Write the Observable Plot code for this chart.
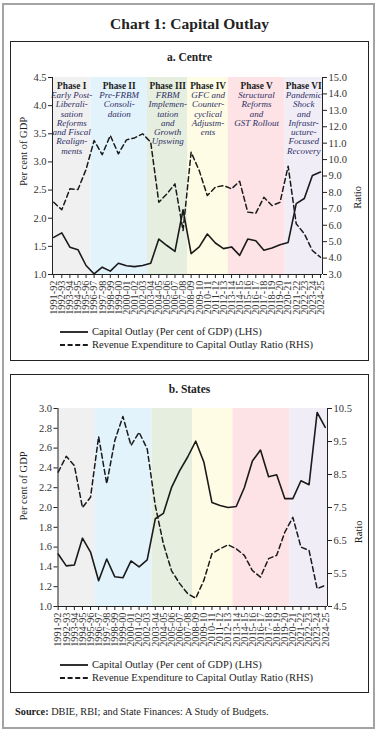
<!DOCTYPE html>
<html><head><meta charset="utf-8">
<script src="https://cdn.jsdelivr.net/npm/d3@7"></script>
<script src="https://cdn.jsdelivr.net/npm/@observablehq/plot@0.6"></script>
<style>
body{margin:0;background:#fff;font-family:"Liberation Serif",serif;color:#222;}
#frame{position:absolute;left:2px;top:3px;width:373px;height:726px;border:2px solid #a3a3a3;box-sizing:border-box;}
.title{position:absolute;left:0;width:379px;top:15px;text-align:center;font-weight:bold;font-size:15.5px;line-height:18px;color:#222;}
.panel{position:absolute;left:10px;width:359px;border:1px solid #222;box-sizing:border-box;}
.sub{position:absolute;left:0;width:357px;text-align:center;font-weight:bold;font-size:11.5px;line-height:13px;}
.chart{position:absolute;left:0;}
.leg{position:absolute;left:49px;font-size:10.5px;line-height:13px;white-space:nowrap;}
.leg div{height:13px;display:flex;align-items:center;}
.leg svg{margin-right:3px;}
.source{position:absolute;left:15px;top:705px;font-size:10.3px;line-height:13px;}
</style></head>
<body>
<div id="frame"></div>
<div class="title">Chart 1: Capital Outlay</div>
<div class="panel" style="top:41px;height:320px;">
  <div class="sub" style="top:9px;">a. Centre</div>
  <div class="chart" id="c1" style="top:23px;"></div>
  <div class="leg" style="top:283px;" id="l1"></div>
</div>
<div class="panel" style="top:374px;height:319px;">
  <div class="sub" style="top:8px;">b. States</div>
  <div class="chart" id="c2" style="top:21px;"></div>
  <div class="leg" style="top:283px;" id="l2"></div>
</div>
<div class="source"><b>Source:</b> DBIE, RBI; and State Finances: A Study of Budgets.</div>
<script>
const years = ["1991-92","1992-93","1993-94","1994-95","1995-96","1996-97","1997-98","1998-99","1999-00","2000-01","2001-02","2002-03","2003-04","2004-05","2005-06","2006-07","2007-08","2008-09","2009-10","2010-11","2011-12","2012-13","2013-14","2014-15","2015-16","2016-17","2017-18","2018-19","2019-20","2020-21","2021-22","2022-23","2023-24","2024-25"];

// Centre
const centreCapOutlay = [1.66,1.74,1.485,1.44,1.16,1.01,1.13,1.06,1.20,1.155,1.14,1.16,1.20,1.63,1.515,1.41,2.15,1.37,1.49,1.72,1.56,1.46,1.49,1.34,1.63,1.60,1.43,1.47,1.53,1.57,2.26,2.35,2.76,2.82];
const centreRatio = [7.40,6.94,8.22,8.18,9.4,11.16,10.3,11.47,10.35,11.2,11.32,11.57,11.06,7.40,7.91,8.52,5.68,10.45,9.33,7.81,8.32,8.42,8.22,8.68,6.80,6.73,7.70,7.20,7.40,9.6,6.09,5.48,4.46,4.05];

// States
const statesCapOutlay = [1.53,1.41,1.42,1.69,1.55,1.26,1.48,1.30,1.29,1.46,1.40,1.47,1.886,1.94,2.20,2.37,2.51,2.67,2.46,2.05,2.02,2.00,2.01,2.20,2.47,2.58,2.31,2.33,2.09,2.09,2.27,2.23,2.96,2.81];
const statesRatio = [8.57,9.05,8.77,7.50,7.81,9.65,8.22,9.53,10.26,9.38,9.78,9.28,7.56,6.40,5.59,5.20,4.89,4.75,5.29,6.10,6.25,6.37,6.25,6.05,5.59,5.39,5.95,6.05,6.75,7.20,6.30,6.20,5.04,5.14];

const phaseNames = ["Phase I","Phase II","Phase III","Phase IV","Phase V","Phase VI"];
const phaseStart = ["1991-92","1996-97","2003-04","2008-09","2013-14","2020-21"];
const phaseDesc = [
  "Early Post-\nLiberali-\nsation\nReforms\nand Fiscal\nRealign-\nments",
  "Pre-FRBM\nConsoli-\ndation",
  "FRBM\nImplemen-\ntation\nand\nGrowth\nUpswing",
  "GFC and\nCounter-\ncyclical\nAdjustm-\nents",
  "Structural\nReforms\nand\nGST Rollout",
  "Pandemic\nShock\nand\nInfrastr-\nucture-\nFocused\nRecovery"
];
const phaseColors = ["#f0f0f0","#e3f3fc","#e6efdf","#fefce5","#fde3e5","#f1edf6"];

const centreLeftTicks = [1.0,1.5,2.0,2.5,3.0,3.5,4.0,4.5];
const centreRightTicks = [3,4,5,6,7,8,9,10,11,12,13,14,15];
const statesLeftTicks = [1.0,1.2,1.4,1.6,1.8,2.0,2.2,2.4,2.6,2.8,3.0];
const statesRightTicks = [4.5,5.5,6.5,7.5,8.5,9.5,10.5];

const legendItems = ["Capital Outlay (Per cent of GDP) (LHS)","Revenue Expenditure to Capital Outlay Ratio (RHS)"];

function makeChart(opts) {
  const {cap, ratio, lDom, rDom, lTicks, rTicks, xDom, labels, m, height, lblOff} = opts;
  const toL = r => lDom[0] + (r - rDom[0]) * (lDom[1] - lDom[0]) / (rDom[1] - rDom[0]);
  const toR = l => rDom[0] + (l - lDom[0]) * (rDom[1] - rDom[0]) / (lDom[1] - lDom[0]);
  const idx = years.map((d, i) => i);
  const bands = phaseNames.map((p, k) => {
    const s = years.indexOf(phaseStart[k]);
    const e = k < phaseNames.length - 1 ? years.indexOf(phaseStart[k + 1]) : null;
    const x1 = k === 0 ? xDom[0] : s - 0.4;
    const x2 = e === null ? xDom[1] : e - 0.4;
    return {name: p, desc: phaseDesc[k], fill: phaseColors[k], x1, x2, xm: (x1 + x2) / 2};
  });
  const marks = [
    Plot.rect(bands, {x1: "x1", x2: "x2", fill: "fill"}),
  ];
  if (labels) {
    marks.push(Plot.text(bands, {x: "xm", frameAnchor: "top", lineAnchor: "middle", dy: 9, text: "name", fontWeight: "bold", fontSize: 9.3, fill: "#1a1a1a"}));
    marks.push(Plot.text(bands, {x: "xm", frameAnchor: "top", lineAnchor: "top", dy: 14, text: "desc", fontStyle: "italic", fontSize: 9, lineHeight: 1.03, fill: "#2e2e66"}));
  }
  marks.push(
    Plot.line(idx, {x: i => i, y: i => toL(ratio[i]), stroke: "#1a1a1a", strokeWidth: 1.5, strokeDasharray: "5,3.2"}),
    Plot.line(idx, {x: i => i, y: i => cap[i], stroke: "#1a1a1a", strokeWidth: 1.6}),
    Plot.ruleX([xDom[0]], {stroke: "#222", strokeWidth: 1}),
    Plot.ruleX([xDom[1]], {stroke: "#222", strokeWidth: 1}),
    Plot.ruleY([lDom[0]], {stroke: "#222", strokeWidth: 1}),
    Plot.axisY(lTicks, {anchor: "left", tickSize: 4, tickPadding: 2, tickFormat: d => d.toFixed(1), label: null, fill: "#333"}),
    Plot.axisY(rTicks.map(toL), {anchor: "right", tickSize: 4, tickPadding: 2, tickFormat: d => toR(d).toFixed(1), label: null, fill: "#333"}),
    Plot.axisX(idx, {anchor: "bottom", tickSize: 4, tickPadding: 2, tickRotate: -90, tickFormat: i => years[i], label: null, fill: "#333", fontSize: 10.3}),
    Plot.text(["Per cent of GDP"], {frameAnchor: "left", dx: lblOff.ldx, dy: lblOff.dy, rotate: -90, fontSize: 10.5, fill: "#222"}),
    Plot.text(["Ratio"], {frameAnchor: "right", dx: lblOff.rdx, dy: lblOff.dy, rotate: -90, fontSize: 10.5, fill: "#222"})
  );
  return Plot.plot({
    width: 357, height,
    marginTop: m[0], marginRight: m[1], marginBottom: m[2], marginLeft: m[3],
    style: {fontFamily: "Liberation Serif, serif", fontSize: "10.5px", color: "#222", background: "transparent"},
    x: {domain: xDom, axis: null},
    y: {domain: lDom, axis: null},
    marks
  });
}

document.getElementById("c1").appendChild(makeChart({
  cap: centreCapOutlay, ratio: centreRatio, lDom: [1, 4.5], rDom: [3, 15],
  lTicks: centreLeftTicks, rTicks: centreRightTicks, xDom: [-0.15, 33.25], labels: true,
  m: [12, 46, 46, 41], height: 255, lblOff: {ldx: -29, rdx: 35, dy: 10}
}));
document.getElementById("c2").appendChild(makeChart({
  cap: statesCapOutlay, ratio: statesRatio, lDom: [1, 3], rDom: [4.5, 10.5],
  lTicks: statesLeftTicks, rTicks: statesRightTicks, xDom: [-0.02, 33.28], labels: false,
  m: [12, 41, 44, 46.5], height: 254, lblOff: {ldx: -34.5, rdx: 31, dy: 13}
}));

function legend(el) {
  el.innerHTML = legendItems.map((t, k) =>
    `<div><svg width="29" height="6"><line x1="0" x2="28" y1="3" y2="3" stroke="#1a1a1a" stroke-width="1.8" ${k ? 'stroke-dasharray="5,2.6"' : ''}/></svg>${t}</div>`
  ).join("");
}
legend(document.getElementById("l1"));
legend(document.getElementById("l2"));
</script>
</body></html>
